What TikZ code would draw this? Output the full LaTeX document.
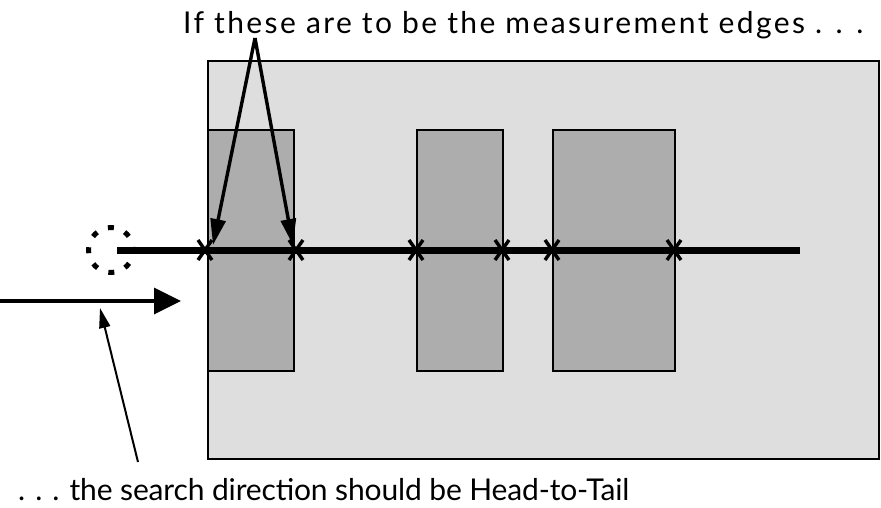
\documentclass[tikz,border=0pt]{standalone}
\usepackage{fontspec}
\setmainfont{Lato}
\usetikzlibrary{arrows.meta}
\definecolor{lightdot}{gray}{0.87}
\definecolor{darkdot}{gray}{0.68}
\begin{document}
\begin{tikzpicture}[x=1pt,y=-1pt,
  bigbox/.style={draw=black,line width=2.4pt,fill=lightdot,anchor=north west,inner sep=0pt},
  darkbox/.style={draw=black,line width=2.4pt,fill=darkdot,anchor=north west,inner sep=0pt,minimum height=241pt},
  scanline/.style={line width=7pt},
  crossmark/.style={line width=3.4pt},
  pointer/.style={line width=3.6pt,-{Triangle[length=27pt,width=26pt]}},
  thickpointer/.style={line width=3.4pt,-{Triangle[length=26pt,width=15pt]}},
  thinpointer/.style={line width=2pt,-{Triangle[length=20pt,width=11pt]}},
  label/.style={font=\fontsize{30}{34}\selectfont,inner sep=0pt}]
\useasboundingbox (0,0) rectangle (881,507);
\node[bigbox,minimum width=671pt,minimum height=398pt] (big) at (207,60) {};
\node[darkbox,minimum width=86pt] (r1) at (207,129) {};
\node[darkbox,minimum width=86pt] (r2) at (416,129) {};
\node[darkbox,minimum width=122pt] (r3) at (552,129) {};
\coordinate (ls) at (117,250);
\coordinate (le) at (800,250);
\draw[scanline] (ls) -- (le);
\foreach \x/\n in {205/e1,296/e2,416/e3,502/e4,552/e5,674/e6}{
  \coordinate (\n) at (\x,250);
  \draw[crossmark] ([shift={(-7,-10)}]\n) -- ([shift={(7,10)}]\n);
  \draw[crossmark] ([shift={(7,-10)}]\n) -- ([shift={(-7,10)}]\n);
}
\node[circle,draw,dash pattern=on 6pt off 11.7pt,dash phase=3pt,line width=5pt,minimum size=45pt,inner sep=0pt] (start) at (111,250) {};
\coordinate (as) at (0,301);
\coordinate (ae) at (181,301);
\draw[pointer] (as) -- (ae);
\node[label,anchor=base west] (top) at (183,33) {\addfontfeature{LetterSpace=8}If these are to be the measurement edges . . .};
\node[label,anchor=base west] (bot) at (18,500) {\addfontfeature{LetterSpace=-0.5}. . . the search direction should be Head-to-Tail};
\coordinate (apex) at (255,38);
\coordinate (t1) at (213,245);
\coordinate (t2) at (293,245);
\draw[thickpointer] (apex) -- (t1);
\draw[thickpointer] (apex) -- (t2);
\coordinate (bs) at (138,462);
\coordinate (bt) at (100,308);
\draw[thinpointer] (bs) -- (bt);
\end{tikzpicture}
\end{document}
